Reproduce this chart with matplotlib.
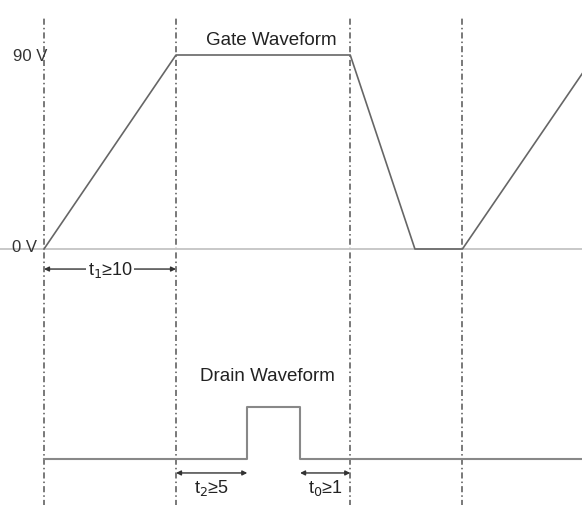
import matplotlib
matplotlib.use('Agg')
import matplotlib.pyplot as plt

# timing marks (time units, t=0 at the first dashed line)
marker_t = [0, 10, 23.2, 31.7]

# gate waveform (time, volts)
gate_t = [0, 10, 23.2, 28.1, 31.7, 40.8]
gate_v = [0, 90, 90, 0, 0, 81.6]

# drain waveform (time, level 0/1)
drain_t = [0, 15.4, 15.4, 19.4, 19.4, 40.8]
drain_lvl = [0, 0, 1, 1, 0, 0]

# timing annotations: (start, end, label)
spans = [(0, 10, 't$_1$≥10'), (10, 15.4, 't$_2$≥5'), (19.4, 23.2, 't$_0$≥1')]

# layout (pixel scale of the original drawing)
W, H = 582, 506
X0, Y0 = 44, 250
PX_T = 13.2
PX_V = 194 / 90
DRAIN_BASE = -97.4
DRAIN_H = 24

plt.rcParams['font.family'] = ['Liberation Sans', 'DejaVu Sans']
fig = plt.figure(figsize=(W / 100, H / 100), dpi=100)
ax = fig.add_axes([0, 0, 1, 1])
ax.set_xlim(-X0 / PX_T, (W - X0) / PX_T)
ax.set_ylim((Y0 - H) / PX_V, Y0 / PX_V)
ax.axis('off')

# dashed reference lines
for t in marker_t:
    ax.plot([t, t], [-120, 107], color='#555555', lw=1.1, ls=(0, (4, 2, 1, 2)))

# 0 V baseline
ax.axhline(0, color='#c8c8c8', lw=1.4)
ax.plot(gate_t, gate_v, color='#666666', lw=1.2)

# drain
drain_v = [DRAIN_BASE + DRAIN_H * d for d in drain_lvl]
ax.plot(drain_t, drain_v, color='#888888', lw=1.5)

ax.text(-X0 / PX_T + 13 / PX_T, 90, '90 V', fontsize=12, va='center', ha='left', color='#333333')
ax.text(-X0 / PX_T + 12 / PX_T, 1, '0 V', fontsize=12, va='center', ha='left', color='#333333')
ax.text(17.2, 97, 'Gate Waveform', fontsize=13.5, ha='center', va='center', color='#222222')
ax.text(16.9, -58.5, 'Drain Waveform', fontsize=13.5, ha='center', va='center', color='#222222')

# span arrows
arrow_y = [-9.3, -103.9, -103.9]
for (a, b, lab), y in zip(spans, arrow_y):
    ax.annotate('', xy=(b, y), xytext=(a, y),
                arrowprops=dict(arrowstyle='<|-|>', color='#333333', lw=1.0,
                                mutation_scale=7, shrinkA=0, shrinkB=0))
    if y > -50:
        ax.text((a + b) / 2, y, lab, fontsize=13, ha='center', va='center',
                color='#222222', bbox=dict(fc='white', ec='none', pad=1))
    else:
        ax.text((a + b) / 2, y - 6.5, lab, fontsize=13, ha='center', va='center',
                color='#222222')

fig.savefig('out.png', dpi=100, facecolor='white')
